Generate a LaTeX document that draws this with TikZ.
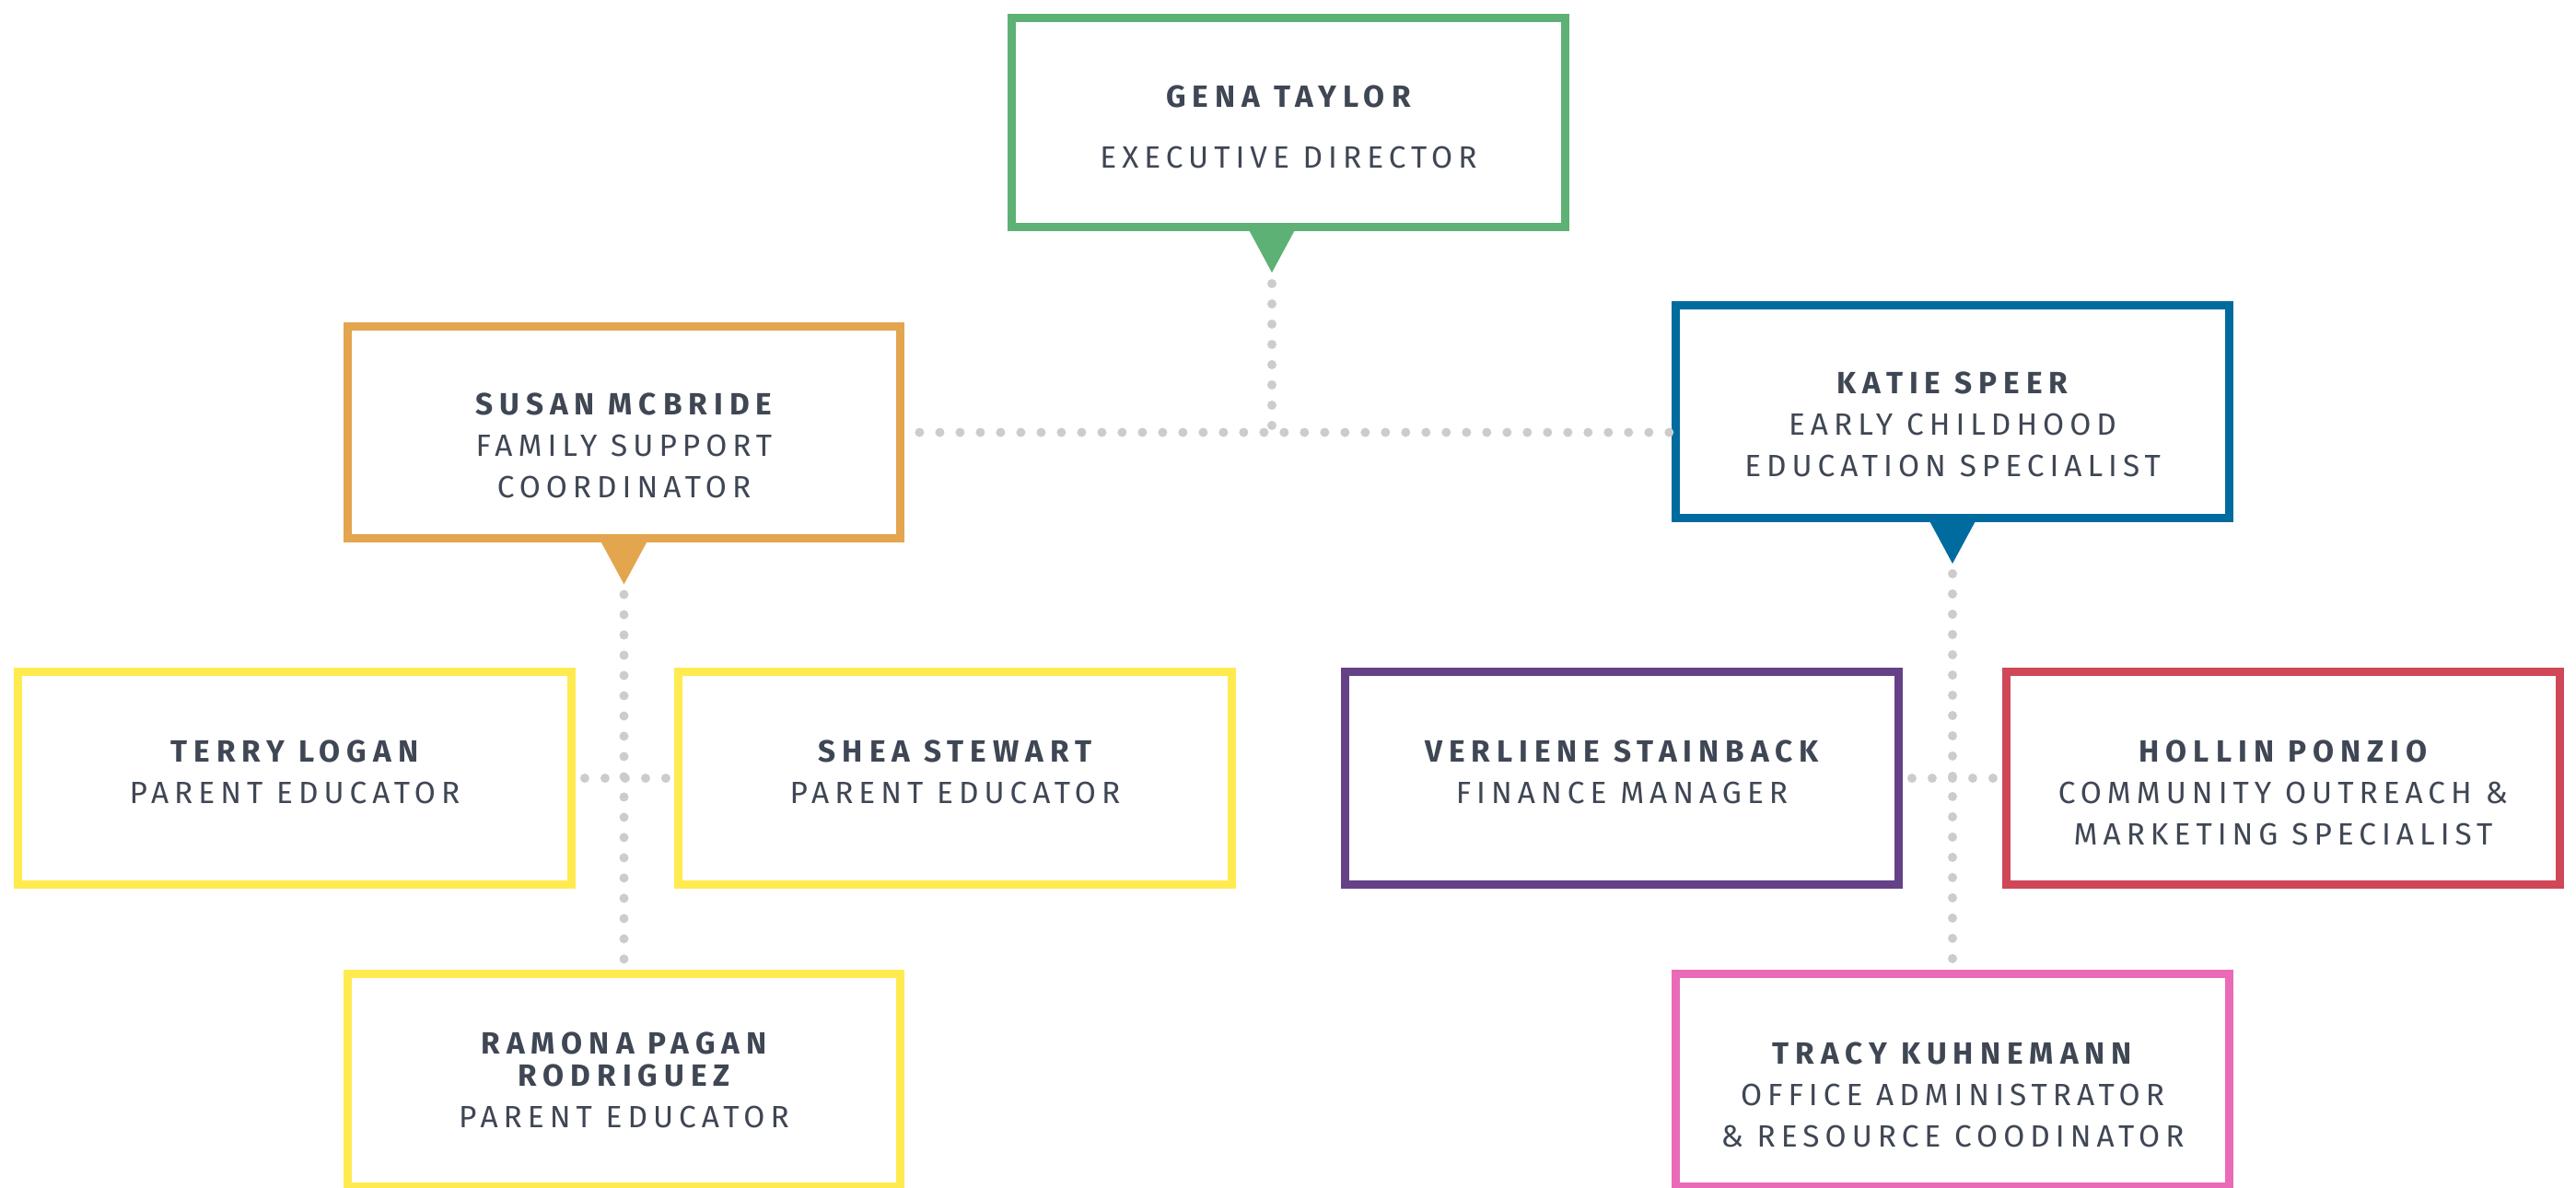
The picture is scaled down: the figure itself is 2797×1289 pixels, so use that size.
\documentclass[tikz,border=0pt]{standalone}
\usepackage{fontspec}
\setmainfont{Fira Sans}[LetterSpace=18]
\newfontfamily\namefont{Fira Sans}[LetterSpace=21]
\usetikzlibrary{calc}

\definecolor{txt}{HTML}{3F4654}
\definecolor{cgreen}{HTML}{5EB174}
\definecolor{corange}{HTML}{E3A54E}
\definecolor{cblue}{HTML}{006B9F}
\definecolor{cyellow}{HTML}{FFEB4F}
\definecolor{cpurple}{HTML}{654287}
\definecolor{cred}{HTML}{D04757}
\definecolor{cpink}{HTML}{E96AB6}
\definecolor{cdot}{HTML}{CCCCCC}

\newcommand{\who}[3][0pt]{{\namefont\bfseries #2}\\[#1]#3}

\tikzset{
  card/.style={draw=#1, line width=0.18cm, fill=white, minimum width=12.02cm,
    minimum height=4.62cm, inner sep=0pt},
  words/.style={align=center, text=txt, inner sep=0pt,
    font=\fontsize{19}{25.6}\selectfont},
  dots/.style={draw=cdot, line width=0.2cm, line cap=round,
    dash pattern=on 0pt off 0.44cm},
}

\begin{document}
\begin{tikzpicture}[x=0.02cm, y=-0.02cm]

\useasboundingbox (0,0) rectangle (2797,1289);

% boxes
\node[card=cgreen, minimum height=4.54cm] (gena) at (1399,133) {};
\node[card=corange] (susan) at (677.5,469.5) {};
\node[card=cblue] (katie) at (2120,447) {};
\node[card=cyellow] (terry) at (320,845) {};
\node[card=cyellow] (shea) at (1037,845) {};
\node[card=cpurple] (verliene) at (1761,845) {};
\node[card=cred] (hollin) at (2479,845) {};
\node[card=cyellow] (ramona) at (677.5,1173) {};
\node[card=cpink] (tracy) at (2120,1173) {};

% names and titles
\node[words] (gena-txt) at ($(gena)+(0,5)$)
    {\who[11.8pt]{GENA TAYLOR}{EXECUTIVE DIRECTOR}};
\node[words] (susan-txt) at ($(susan)+(0,14)$)
    {\who{SUSAN MCBRIDE}{FAMILY SUPPORT\\COORDINATOR}};
\node[words] (katie-txt) at ($(katie)+(0,14)$)
    {\who{KATIE SPEER}{EARLY CHILDHOOD\\EDUCATION SPECIALIST}};
\node[words] (terry-txt) at ($(terry)+(0,-7)$) {\who{TERRY LOGAN}{PARENT EDUCATOR}};
\node[words] (shea-txt) at ($(shea)+(0,-7)$) {\who{SHEA STEWART}{PARENT EDUCATOR}};
\node[words] (verliene-txt) at ($(verliene)+(0,-7)$)
    {\who{VERLIENE STAINBACK}{FINANCE MANAGER}};
\node[words] (hollin-txt) at ($(hollin)+(0,16)$)
    {\who{HOLLIN PONZIO}{COMMUNITY OUTREACH \&\\MARKETING SPECIALIST}};
\node[words] (ramona-txt) at (ramona)
    {{\namefont\bfseries RAMONA PAGAN}\\[-6pt]\who{RODRIGUEZ}{PARENT EDUCATOR}};
\node[words] (tracy-txt) at ($(tracy)+(0,16)$)
    {\who{TRACY KUHNEMANN}{OFFICE ADMINISTRATOR\\\& RESOURCE COODINATOR}};

% pointers under the boxes
\foreach \n/\c/\dx in {gena/cgreen/-18, susan/corange/0, katie/cblue/0}
{
    \fill[\c] ($(\n.south)+(\dx-27,-5)$) -- ($(\n.south)+(\dx+27,-5)$)
        -- ($(\n.south)+(\dx,45)$) -- cycle;
    \coordinate (\n-tip) at ($(\n.south)+(\dx,45)$);
}

\coordinate (hub) at (gena-tip |- susan.east);

\draw[dots] ($(gena-tip)+(0,12)$) -- (hub);
\draw[dots] ($(susan.east)+(16,0)$) -- (katie.west |- hub);

\draw[dots] ($(susan-tip)+(0,11)$) -- ($(ramona.north)+(0,-7)$);
\draw[dots] ($(terry.east)+(10,0)$) -- ($(shea.west)+(-5,0)$);

\draw[dots] ($(katie-tip)+(0,11)$) -- ($(tracy.north)+(0,-7)$);
\draw[dots] ($(verliene.east)+(10,0)$) -- ($(hollin.west)+(-5,0)$);

\end{tikzpicture}
\end{document}
